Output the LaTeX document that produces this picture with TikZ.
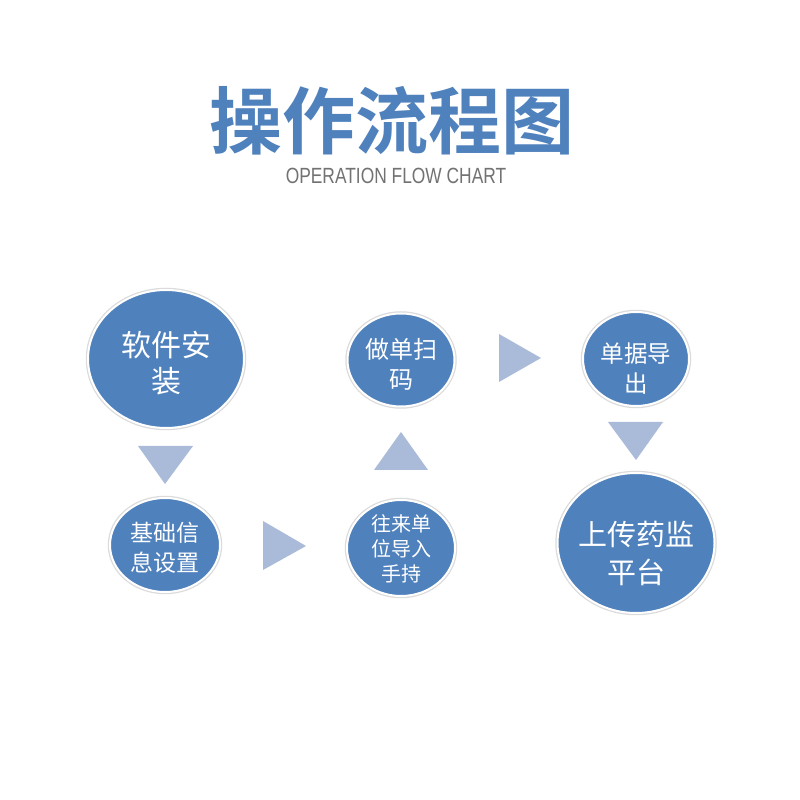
\documentclass[tikz,border=0pt]{standalone}
\usepackage{fontspec}
\usetikzlibrary{shapes.geometric}
\newfontfamily\cjk[BoldFont={Noto Sans CJK SC Bold}]{Noto Sans CJK SC}
\newfontfamily\subfont[FakeStretch=0.79]{Liberation Sans}
\definecolor{ellblue}{HTML}{4F81BD}
\definecolor{triblue}{HTML}{AABAD9}
\definecolor{subgray}{HTML}{727272}
\newcommand\ellt[2]{\raisebox{#1}[\height][\depth]{\begin{tabular}{@{}c@{}}#2\end{tabular}}}
\tikzset{
  stepell/.style={shape=ellipse, fill=ellblue, draw=white, line width=2pt,
    preaction={draw=black!14, line width=4.5pt},
    inner sep=-4pt, text=white, align=center},
  tri/.style={fill=triblue, draw=none}
}
\begin{document}
\begin{tikzpicture}[x=1pt,y=1pt]
\useasboundingbox (0,0) rectangle (800,800);
\fill[white] (0,0) rectangle (800,800);
% title
\node[text=ellblue, font={\cjk\bfseries\fontsize{73}{80}\selectfont}] (title) at (392,679) {操作流程图};
\node[text=subgray, font={\subfont\fontsize{22}{24}\selectfont}] (subtitle) at (396,624) {OPERATION FLOW CHART};
% ellipses
\node[stepell, minimum width=156pt, minimum height=138pt, font={\cjk\fontsize{30}{34}\selectfont}] (s1) at (166,441)
  {\ellt{-8pt}{软件安\\装}};
\node[stepell, minimum width=110pt, minimum height=94pt, font={\cjk\fontsize{23}{30}\selectfont}] (s2) at (165,255)
  {\ellt{-6pt}{基础信\\息设置}};
\node[stepell, minimum width=108pt, minimum height=96pt, font={\cjk\fontsize{20}{25}\selectfont}] (s3) at (401,252)
  {\ellt{-4pt}{往来单\\位导入\\手持}};
\node[stepell, minimum width=107pt, minimum height=93pt, font={\cjk\fontsize{24}{30}\selectfont}] (s4) at (401,440)
  {\ellt{-8pt}{做单扫\\码}};
\node[stepell, minimum width=106pt, minimum height=94pt, font={\cjk\fontsize{23.5}{30}\selectfont}] (s5) at (636,441)
  {\ellt{-13pt}{单据导\\出}};
\node[stepell, minimum width=157pt, minimum height=140pt, font={\cjk\fontsize{29}{38}\selectfont}] (s6) at (636,257)
  {\ellt{-14pt}{上传药监\\平台}};
% triangles
\fill[tri] (138,354) -- (193,354) -- (165,316) -- cycle;
\fill[tri] (263,279) -- (263,230) -- (306,254) -- cycle;
\fill[tri] (374,330) -- (428,330) -- (401,368) -- cycle;
\fill[tri] (499,466) -- (499,418) -- (541,442) -- cycle;
\fill[tri] (608,378) -- (663,378) -- (636,340) -- cycle;
\end{tikzpicture}
\end{document}
